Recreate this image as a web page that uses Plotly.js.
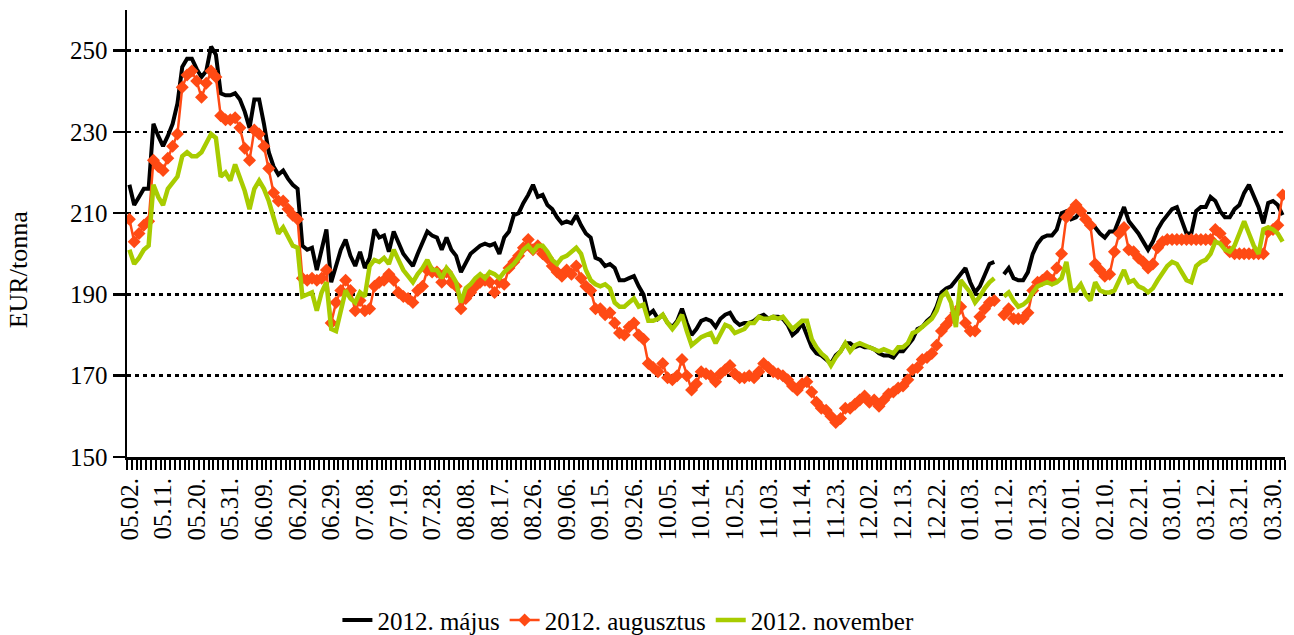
<!DOCTYPE html>
<html><head><meta charset="utf-8">
<script src="https://cdn.plot.ly/plotly-3.0.1.min.js"></script>
<style>html,body{margin:0;padding:0;background:#fff}#chart{width:1294px;height:635px}</style>
</head><body><div id="chart"></div>
<script>
const tickLabels = ['05.02.','05.11.','05.20.','05.31.','06.09.','06.20.','06.29.','07.08.','07.19.','07.28.',
  '08.08.','08.17.','08.26.','09.06.','09.15.','09.26.','10.05.','10.14.','10.25.','11.03.',
  '11.14.','11.23.','12.02.','12.13.','12.22.','01.03.','01.12.','01.23.','02.01.','02.10.',
  '02.21.','03.01.','03.12.','03.21.','03.30.'];
const seriesNames = ['2012. május','2012. augusztus','2012. november'];
const yTicks = [150,170,190,210,230,250];

const majus = [
217,212,214,216,216,232,229,226.5,229,232,
237,246,248,248,245.5,243.5,245,251,249,239.5,
239,239,239.5,238,235,231,238,238,232,225,
221.5,219.5,220.5,218.5,217,216,202,201,201.5,196,
201,206,193,197,201,203.5,199.5,197,200.5,196.5,
199,206,204,204.5,200.5,205.5,203,200,198.5,197,
200,203,205.5,204.5,204,201,204,201,199.5,195.5,
198,200,201,202,202.5,202,202.5,200,204,205.5,
209.5,210,212.5,214.5,217,214,214.5,212,211,209,
207.5,208,207.5,209.5,207,205,204,199,198.5,197,
197.5,196.5,193.5,193.5,194,194.5,192,190,185,186,
184,185,183,182,183.5,186.5,183,180,181.5,183.5,
184,183.5,182,184,185,185.5,183.5,182.5,183,183,
183.5,184.5,185,184,184.5,184.5,184,182.5,180,181,
183,180,177,175.5,175,174,173,175,176,178,
178,177,177.5,177,177,176.5,175.5,175,175,174.5,
176,176,177.5,179,181.5,182,183.5,184.5,187,190.5,
191.5,192,193.5,195,196.5,193,190.5,192,195,197.5,
198,null,195,196.5,194,193.5,193.5,195.5,200,202.5,
204,204.5,204.5,206,210,210.5,208.5,209,210.5,209,
207.5,206.5,205,204,205.5,205.5,208.5,211.5,208,206.5,
205,203,201,203,206,208,209.5,211,211.5,208.5,
205,205,210.5,211.5,211.5,214,213,210.5,209,209,
211,212,215,217,214,211.5,207.5,212.5,213,212,
209.5];

const augusztus = [
208.5,203,205,207,208,223,221.5,220.5,223.5,226.5,
229.5,241,244,245,242.5,238.5,242,245,243.5,234,
233,233,233.5,231,226,223,230.5,229.5,226.5,221,
215,213,213,211,209.5,208.5,194,193.5,194,193.5,
194,196,183,188,191,193.5,191,186,188.5,186,
186.5,192,193,193.5,195,193.5,190.5,189.5,189,188,
191,192,196,195.5,195.5,193,195.5,193,192,186.5,
189,190.5,192,193,193.5,193,190.5,193,192.5,196.5,
198,199.5,201.5,203.5,201,202,200,199,197,195.5,
194.5,196,195,197,194,192,191,186.5,186.5,185,
185.5,183,180.5,180,182,183,180,179,173,172,
171,173,169.5,169,170,174,170,166.5,168,171,
170.5,170,168.5,170.5,171.5,172.5,170.5,169.5,169.5,170,
169.5,171,173,172,171,170.5,170,169,167.5,166.5,
168,168.5,166,163.5,162,161.5,160,158.5,159.5,162,
162,163,164,165,163.5,164,162.5,164,165.5,166,
167,167.5,169,171.5,172,174,174.5,175.5,177.5,181,
182.5,184,185.5,187,183,181,181,184.5,186.5,188,
188.5,null,185,186.5,184,184,184,185.5,191,193,
193.5,194.5,193.5,196.5,200,209,210.5,212,210.5,208.5,
207,197.5,196,194.5,195,200.5,205,206.5,201,200.5,
199,198,196.5,197.5,201.5,203,203.5,203.5,203.5,203.5,
203.5,203.5,203.5,203.5,203.5,203.5,206,205,203,200.5,
200,200,200,200,200,200,200,205.5,206,207,
214.5];

const november = [
201,197.5,199,201,202,217,214,212,216,217.5,
219,224,225,224,224,225,227,229.5,228.5,219,
220,218,222,218.5,215.5,211,216,218,216,213,
208.5,205,206.5,204,202,201.5,189.5,190,190.5,186,
190.5,193,181.5,181,186.5,191,189,188,190.5,189.5,
197,198.5,198,199,197.5,201,198.5,196,194.5,193,
195,196.5,198.5,196,196,194,196.5,195,193,188,
191.5,192.5,194,195,194,195.5,195,194,195.5,196.5,
197.5,199,201,202,200.5,202,202,200.5,198.5,197.5,
199,199.5,200.5,201.5,200,196,193.5,192.5,192,192.5,
191.5,188,187,187,188,189,187,187.5,183.5,183.5,
184,185,183,181.5,183,185,181,177.5,178.5,179.5,
180,180.5,178,180,182.5,182,180.5,181,181.5,183,
183,184.5,184,184,184.5,184,184.5,183,181.5,182.5,
183.5,183.5,179,177,175.5,174.5,172.5,174.5,176,178,
176,177.5,178,177.5,177,176.5,176,176.5,176,175.5,
177,177,178,180.5,181,182,183,184,186,189.5,
190.5,188,182,193.5,192,190.5,188,189.5,191.5,193,
194,null,189.5,190.5,188.5,187,187.5,188.5,190.5,192,
192.5,193,192.5,193,194,198,191,191,192.5,190,
188.5,193,191,190.5,190.5,191,193.5,196,193,193.5,
192,191.5,190.5,191.5,193.5,195.5,197,198,197.5,195.5,
193.5,193,197,198,198.5,200,203,202.5,201,200.5,
202,205,208,205,202,200,206,206.5,206,205,
203];

const idx = majus.map((_, i) => i);
const tickPos = tickLabels.map((_, k) => k * 7);
const xRange = [-0.5, idx.length - 0.5];

const FONT = 'Liberation Serif, Times New Roman, serif';

const traces = [
  {x: idx, y: majus, name: seriesNames[0], type: 'scatter', mode: 'lines',
   line: {color: '#000000', width: 4}, connectgaps: false},
  {x: idx, y: augusztus, name: seriesNames[1], type: 'scatter', mode: 'lines+markers',
   line: {color: '#ff4a14', width: 2.5}, marker: {symbol: 'diamond', size: 10, color: '#ff4a14'}, connectgaps: false},
  {x: idx, y: november, name: seriesNames[2], type: 'scatter', mode: 'lines', xaxis: 'x2',
   line: {color: '#a8cc00', width: 4.5}, connectgaps: false}
];

const layout = {
  width: 1294, height: 635,
  margin: {l: 127, r: 9, t: 10, b: 178, autoexpand: false},
  paper_bgcolor: '#ffffff', plot_bgcolor: '#ffffff',
  font: {family: FONT, size: 25, color: '#000'},
  showlegend: true,
  legend: {orientation: 'h', x: 0.433, xanchor: 'center', y: -0.365, yanchor: 'middle',
           font: {family: FONT, size: 25, color: '#000'}, bgcolor: 'rgba(0,0,0,0)'},
  xaxis: {
    range: xRange, autorange: false,
    tickmode: 'linear', tick0: -0.5, dtick: 1,
    ticks: 'outside', ticklen: 10, tickwidth: 2, tickcolor: '#000',
    showticklabels: false,
    showgrid: false, zeroline: false,
    showline: true, linecolor: '#000', linewidth: 2.5,
    automargin: false, fixedrange: true
  },
  xaxis2: {
    overlaying: 'x', anchor: 'y', side: 'bottom',
    range: xRange, autorange: false,
    tickmode: 'array', tickvals: tickPos, ticktext: tickLabels, tickangle: -90,
    ticks: 'outside', ticklen: 10, tickcolor: 'rgba(0,0,0,0)',
    tickfont: {family: FONT, size: 25, color: '#000'},
    showgrid: false, zeroline: false, showline: false,
    automargin: false, fixedrange: true
  },
  yaxis: {
    range: [150, 260], autorange: false,
    tickmode: 'array', tickvals: yTicks,
    ticks: 'outside', ticklen: 12, tickwidth: 2.5, tickcolor: '#000',
    tickfont: {family: FONT, size: 25, color: '#000'},
    showgrid: true, gridcolor: '#000', gridwidth: 2.5, griddash: '4px,4px',
    zeroline: false, showline: true, linecolor: '#000', linewidth: 2.5,
    automargin: false, fixedrange: true
  },
  annotations: [{
    text: 'EUR/tonna', xref: 'paper', yref: 'paper', x: -0.094, y: 0.418,
    xanchor: 'center', yanchor: 'middle', textangle: -90, showarrow: false,
    font: {family: FONT, size: 26, color: '#000'}
  }]
};

Plotly.newPlot('chart', traces, layout, {displayModeBar: false, staticPlot: true});
</script>
</body></html>
